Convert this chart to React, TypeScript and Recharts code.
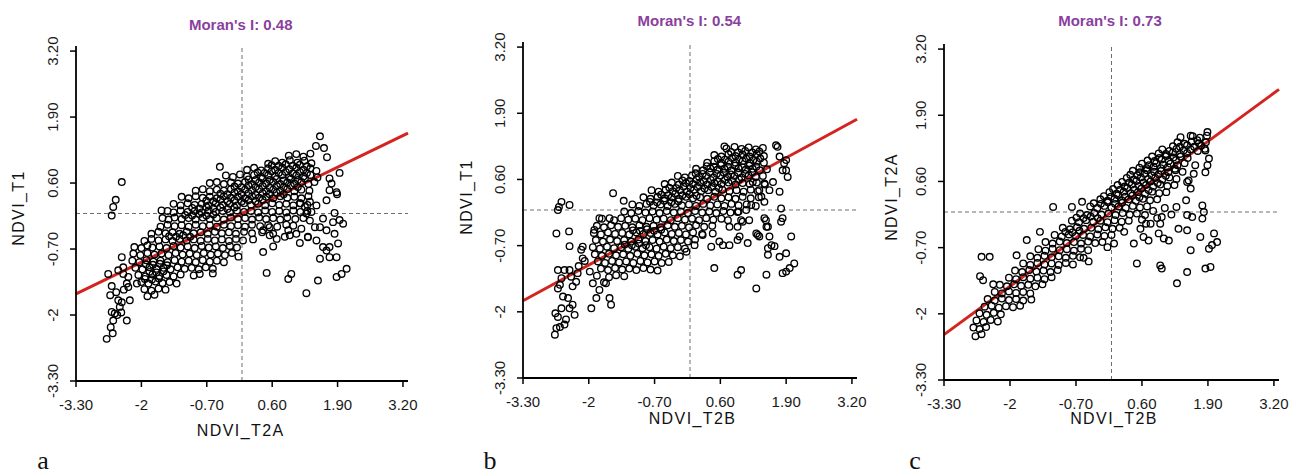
import React from "react";
import { ScatterChart, Scatter, XAxis, YAxis, ReferenceLine } from "recharts";

// shared axis ticks (both axes, all three panels)
const TICKS = [-3.3, -2, -0.7, 0.6, 1.9, 3.2];
const TICK_LABELS = ["-3.30", "-2", "-0.70", "0.60", "1.90", "3.20"];
const DOMAIN: [number, number] = [-3.3, 3.3];

const MORAN = [0.48, 0.54, 0.73];
const X_TITLES = ["NDVI_T2A", "NDVI_T2B", "NDVI_T2B"];
const Y_TITLES = ["NDVI_T1", "NDVI_T1", "NDVI_T2A"];
const LETTERS = ["a", "b", "c"];

// a: NDVI_T2A (x) vs NDVI_T1 (y)
const POINTS_A: [number, number][] = [
  [0.93,1.14],[1.08,1.17],[1.22,1.12],[1.36,1.18],
  [0.52,0.98],[0.66,1.03],[0.8,1.0],[0.95,1.05],[1.1,1.0],[1.24,1.04],[1.38,0.99],
  [0.1,0.86],[0.24,0.9],[0.38,0.85],[0.52,0.89],[0.66,0.86],[0.8,0.9],[0.94,0.87],[1.08,0.9],[1.22,0.86],[1.36,0.89],[1.48,0.84],
  [-0.44,0.92],[-0.32,0.75],[-0.18,0.72],[-0.04,0.77],[0.1,0.73],[0.24,0.76],[0.38,0.72],[0.52,0.75],[0.66,0.73],[0.8,0.76],[0.94,0.72],[1.08,0.75],[1.22,0.73],[1.36,0.76],[1.5,0.71],
  [-0.64,0.6],[-0.5,0.62],[-0.36,0.58],[-0.22,0.61],[-0.08,0.59],[0.06,0.62],[0.2,0.58],[0.34,0.61],[0.48,0.59],[0.62,0.62],[0.76,0.58],[0.9,0.61],[1.04,0.59],[1.18,0.62],[1.32,0.58],[1.44,0.62],
  [-0.92,0.45],[-0.78,0.48],[-0.64,0.44],[-0.5,0.47],[-0.36,0.45],[-0.22,0.48],[-0.08,0.44],[0.06,0.47],[0.2,0.45],[0.34,0.48],[0.48,0.44],[0.62,0.47],[0.76,0.45],[0.9,0.48],[1.04,0.44],[1.18,0.47],[1.34,0.45],
  [-1.2,0.33],[-1.06,0.3],[-0.92,0.34],[-0.78,0.31],[-0.64,0.33],[-0.5,0.3],[-0.36,0.34],[-0.22,0.31],[-0.08,0.33],[0.06,0.3],[0.2,0.34],[0.34,0.31],[0.48,0.33],[0.62,0.3],[0.76,0.34],[0.9,0.31],[1.04,0.33],[1.18,0.3],[1.32,0.34],
  [-1.36,0.19],[-1.22,0.16],[-1.08,0.2],[-0.94,0.17],[-0.8,0.19],[-0.66,0.16],[-0.52,0.2],[-0.38,0.17],[-0.24,0.19],[-0.1,0.16],[0.04,0.2],[0.18,0.17],[0.32,0.19],[0.46,0.16],[0.6,0.2],[0.74,0.17],[0.88,0.19],[1.02,0.16],[1.16,0.2],[1.3,0.17],
  [-1.6,0.06],[-1.48,0.05],[-1.36,0.02],[-1.22,0.06],[-1.08,0.03],[-0.94,0.05],[-0.8,0.02],[-0.66,0.06],[-0.52,0.03],[-0.38,0.05],[-0.24,0.02],[-0.1,0.06],[0.04,0.03],[0.18,0.05],[0.32,0.02],[0.46,0.06],[0.6,0.03],[0.74,0.05],[0.88,0.02],[1.02,0.06],[1.16,0.03],[1.3,0.05],
  [-1.58,-0.09],[-1.46,-0.12],[-1.34,-0.08],[-1.2,-0.11],[-1.06,-0.09],[-0.92,-0.12],[-0.78,-0.08],[-0.64,-0.11],[-0.5,-0.09],[-0.36,-0.12],[-0.22,-0.08],[-0.08,-0.11],[0.06,-0.09],[0.2,-0.12],[0.34,-0.08],[0.48,-0.11],[0.62,-0.09],[0.76,-0.12],[0.9,-0.08],[1.06,-0.11],[1.22,-0.09],
  [-1.62,-0.26],[-1.48,-0.22],[-1.34,-0.25],[-1.2,-0.23],[-1.06,-0.26],[-0.92,-0.22],[-0.78,-0.25],[-0.64,-0.23],[-0.5,-0.26],[-0.36,-0.22],[-0.22,-0.25],[-0.08,-0.23],[0.06,-0.26],[0.2,-0.22],[0.36,-0.25],[0.52,-0.23],[0.7,-0.26],[0.88,-0.22],[1.02,-0.24],
  [-1.8,-0.4],[-1.66,-0.36],[-1.52,-0.39],[-1.38,-0.37],[-1.24,-0.4],[-1.1,-0.36],[-0.96,-0.39],[-0.82,-0.37],[-0.68,-0.4],[-0.54,-0.36],[-0.4,-0.39],[-0.26,-0.37],[-0.12,-0.4],[0.04,-0.36],[0.2,-0.39],[0.4,-0.37],[0.62,-0.4],[0.92,-0.33],[1.08,-0.4],[1.18,-0.3],
  [-1.94,-0.54],[-1.8,-0.5],[-1.66,-0.53],[-1.52,-0.51],[-1.38,-0.54],[-1.24,-0.5],[-1.1,-0.53],[-0.96,-0.51],[-0.82,-0.54],[-0.68,-0.5],[-0.54,-0.53],[-0.4,-0.51],[-0.26,-0.54],[-0.12,-0.5],[0.02,-0.53],[0.22,-0.51],[0.69,-0.5],[0.85,-0.46],
  [-2.14,-0.66],[-2.0,-0.68],[-1.88,-0.63],[-1.78,-0.67],[-1.64,-0.65],[-1.5,-0.68],[-1.36,-0.64],[-1.22,-0.67],[-1.08,-0.65],[-0.94,-0.68],[-0.8,-0.64],[-0.66,-0.67],[-0.52,-0.65],[-0.38,-0.68],[-0.24,-0.64],[-0.1,-0.67],
  [-2.16,-0.79],[-2.02,-0.82],[-1.88,-0.78],[-1.74,-0.81],[-1.6,-0.79],[-1.46,-0.82],[-1.32,-0.78],[-1.18,-0.81],[-1.04,-0.79],[-0.9,-0.82],[-0.76,-0.78],[-0.62,-0.81],[-0.48,-0.79],[-0.34,-0.82],[-0.2,-0.78],[-0.07,-0.85],
  [-2.18,-0.93],[-2.04,-0.96],[-1.9,-0.92],[-1.76,-0.95],[-1.62,-0.93],[-1.48,-0.96],[-1.34,-0.92],[-1.2,-0.95],[-1.06,-0.93],[-0.92,-0.96],[-0.78,-0.92],[-0.64,-0.95],[-0.5,-0.93],[-0.36,-0.96],
  [-2.12,-1.07],[-1.98,-1.1],[-1.84,-1.06],[-1.7,-1.09],[-1.56,-1.07],[-1.42,-1.1],[-1.28,-1.06],[-1.14,-1.09],[-1.0,-1.07],[-0.86,-1.1],[-0.72,-1.06],[-0.58,-1.09],
  [-2.06,-1.21],[-1.92,-1.24],[-1.78,-1.2],[-1.64,-1.23],[-1.5,-1.21],[-1.36,-1.24],[-1.22,-1.2],[-0.96,-1.22],[-0.84,-1.19],[-0.58,-1.18],
  [-2.0,-1.35],[-1.86,-1.38],[-1.72,-1.34],[-1.58,-1.37],[-1.44,-1.35],[-1.3,-1.38],
  [-1.94,-1.49],[-1.8,-1.52],[-1.66,-1.48],[-1.52,-1.5],[-1.88,-1.63],[-1.74,-1.6],
  // overlapping points in the densest part
  [0.59,0.95],[0.73,0.94],[0.87,0.97],[1.01,0.94],[1.15,0.96],[1.29,0.93],
  [0.31,0.81],[0.45,0.8],[0.59,0.83],[0.73,0.8],[0.87,0.82],[1.01,0.79],[1.15,0.82],[1.29,0.8],
  [0.13,0.67],[0.27,0.66],[0.41,0.69],[0.55,0.66],[0.69,0.68],[0.83,0.65],[0.97,0.68],[1.11,0.66],[1.25,0.69],
  [-0.15,0.53],[-0.01,0.52],[0.13,0.55],[0.27,0.52],[0.41,0.54],[0.55,0.51],[0.69,0.54],[0.83,0.52],[0.97,0.55],[1.11,0.52],
  [-0.43,0.39],[-0.29,0.38],[-0.15,0.41],[-0.01,0.38],[0.13,0.4],[0.27,0.37],[0.41,0.4],[0.55,0.38],[0.69,0.41],[0.83,0.38],
  [-0.71,0.25],[-0.57,0.24],[-0.43,0.27],[-0.29,0.24],[-0.15,0.26],[-0.01,0.23],[0.13,0.26],[0.27,0.24],[0.41,0.27],
  [-0.99,0.11],[-0.85,0.1],[-0.71,0.13],[-0.57,0.1],[-0.43,0.12],[-0.29,0.09],[-0.15,0.12],
  [-1.13,-0.03],[-0.99,-0.04],[-0.85,-0.01],[-0.71,-0.04],[-0.57,-0.02],
  [-1.45,-0.45],[-1.31,-0.46],[-1.17,-0.43],[-1.03,-0.46],
  [-1.91,-1.0],[-1.77,-1.01],[-1.63,-0.99],[-1.49,-1.02],[-1.84,-1.15],[-1.7,-1.16],[-1.56,-1.14],[-1.93,-1.29],[-1.79,-1.3],[-1.65,-1.28],
  // left tail and isolated points
  [-2.39,0.62],[-2.51,0.27],[-2.56,0.13],[-2.59,-0.04],
  [-2.69,-2.47],[-2.57,-2.36],[-2.61,-2.24],[-2.56,-2.11],[-2.53,-1.97],[-2.59,-1.94],[-2.43,-1.84],[-2.39,-1.75],[-2.46,-1.71],[-2.23,-1.71],
  [-2.29,-2.11],[-2.62,-1.61],[-2.59,-1.43],[-2.66,-1.19],[-2.46,-1.12],[-2.36,-1.19],[-2.26,-1.25],[-2.29,-1.38],[-2.09,-1.38],[-2.39,-0.86],
  [-2.5,-1.55],[-2.35,-1.5],[-2.48,-2.0],[-2.4,-1.95],[-2.36,-1.06],[-2.26,-1.45],
  // right-hand scatter
  [1.55,1.52],[1.47,1.33],[1.63,1.29],[1.69,1.11],[1.94,0.8],[1.74,0.69],[1.78,0.59],[1.74,0.46],[1.88,0.42],[1.89,0.38],[1.68,0.26],
  [1.48,0.16],[1.38,0.03],[1.84,0.01],[1.81,-0.17],[2.01,-0.2],[1.94,-0.13],[1.61,-0.1],[1.55,-0.27],[1.68,-0.33],[1.45,-0.27],[1.35,-0.14],
  [1.31,-0.47],[1.48,-0.53],[1.61,-0.66],[1.74,-0.66],[1.68,-0.73],[1.55,-0.89],[1.74,-0.86],[1.88,-0.86],[1.91,-0.59],[1.84,-0.4],
  [2.08,-1.09],[1.98,-1.19],[1.88,-1.25],[1.51,-1.32],[0.98,-1.19],[0.92,-1.29],[0.49,-1.17],[1.28,-1.57],[0.42,-0.76],[0.62,-0.65],
  [1.15,-0.58],[0.95,-0.43],[1.31,-0.46],[1.35,0.23],[1.25,0.13],[1.15,0.2],[1.28,0.0],[0.55,-0.43],[0.42,-0.33],[0.55,-0.27],
];

// b: NDVI_T2B (x) vs NDVI_T1 (y)
const POINTS_B: [number, number][] = [
  [0.72,1.21],[0.88,1.24],[1.02,1.2],[1.16,1.23],[1.3,1.19],[1.44,1.22],
  [0.48,1.08],[0.62,1.05],[0.76,1.1],[0.9,1.06],[1.04,1.09],[1.18,1.05],[1.32,1.1],[1.46,1.06],
  [0.34,0.93],[0.48,0.96],[0.62,0.92],[0.76,0.95],[0.9,0.93],[1.04,0.96],[1.18,0.92],[1.32,0.95],[1.46,0.93],
  [0.12,0.81],[0.26,0.78],[0.4,0.82],[0.54,0.79],[0.68,0.81],[0.82,0.78],[0.96,0.82],[1.1,0.79],[1.24,0.81],[1.38,0.78],[1.52,0.8],
  [-0.24,0.67],[-0.1,0.64],[0.04,0.68],[0.18,0.65],[0.32,0.67],[0.46,0.64],[0.6,0.68],[0.74,0.65],[0.88,0.67],[1.02,0.64],[1.16,0.68],[1.3,0.65],[1.44,0.67],
  [-0.5,0.51],[-0.36,0.54],[-0.22,0.5],[-0.08,0.53],[0.06,0.51],[0.2,0.54],[0.34,0.5],[0.48,0.53],[0.62,0.51],[0.76,0.54],[0.9,0.5],[1.04,0.53],[1.18,0.51],[1.32,0.54],[1.48,0.5],
  [-0.76,0.39],[-0.62,0.36],[-0.48,0.4],[-0.34,0.37],[-0.2,0.39],[-0.06,0.36],[0.08,0.4],[0.22,0.37],[0.36,0.39],[0.5,0.36],[0.64,0.4],[0.78,0.37],[0.92,0.39],[1.06,0.36],[1.2,0.4],[1.34,0.37],
  [-0.92,0.25],[-0.78,0.22],[-0.64,0.26],[-0.5,0.23],[-0.36,0.25],[-0.22,0.22],[-0.08,0.26],[0.06,0.23],[0.2,0.25],[0.34,0.22],[0.48,0.26],[0.62,0.23],[0.76,0.25],[0.9,0.22],[1.04,0.26],[1.2,0.23],[1.36,0.25],
  [-1.14,0.11],[-1.0,0.08],[-0.86,0.12],[-0.72,0.09],[-0.58,0.11],[-0.44,0.08],[-0.3,0.12],[-0.16,0.09],[-0.02,0.11],[0.12,0.08],[0.26,0.12],[0.4,0.09],[0.54,0.11],[0.68,0.08],[0.82,0.12],[0.96,0.09],[1.12,0.11],[1.3,0.08],
  [-1.3,-0.03],[-1.16,-0.06],[-1.02,-0.02],[-0.88,-0.05],[-0.74,-0.03],[-0.6,-0.06],[-0.46,-0.02],[-0.32,-0.05],[-0.18,-0.03],[-0.04,-0.06],[0.1,-0.02],[0.24,-0.05],[0.38,-0.03],[0.52,-0.06],[0.66,-0.02],[0.8,-0.05],[0.96,-0.03],
  [-1.74,-0.17],[-1.5,-0.2],[-1.36,-0.16],[-1.22,-0.19],[-1.08,-0.17],[-0.94,-0.2],[-0.8,-0.16],[-0.66,-0.19],[-0.52,-0.17],[-0.38,-0.2],[-0.24,-0.16],[-0.1,-0.19],[0.04,-0.17],[0.18,-0.2],[0.32,-0.16],[0.46,-0.19],[0.62,-0.17],
  [-1.84,-0.31],[-1.7,-0.34],[-1.56,-0.3],[-1.42,-0.33],[-1.28,-0.31],[-1.14,-0.34],[-1.0,-0.3],[-0.86,-0.33],[-0.72,-0.31],[-0.58,-0.34],[-0.44,-0.3],[-0.3,-0.33],[-0.16,-0.31],[-0.02,-0.34],[0.12,-0.3],[0.28,-0.33],[0.44,-0.31],
  [-1.9,-0.45],[-1.76,-0.48],[-1.62,-0.44],[-1.48,-0.47],[-1.34,-0.45],[-1.2,-0.48],[-1.06,-0.44],[-0.92,-0.47],[-0.78,-0.45],[-0.64,-0.48],[-0.5,-0.44],[-0.36,-0.47],[-0.22,-0.45],[-0.08,-0.48],[0.06,-0.44],[0.24,-0.47],
  [-1.86,-0.59],[-1.72,-0.62],[-1.58,-0.58],[-1.44,-0.61],[-1.3,-0.59],[-1.16,-0.62],[-1.02,-0.58],[-0.88,-0.61],[-0.74,-0.59],[-0.6,-0.62],[-0.46,-0.58],[-0.32,-0.61],[-0.18,-0.59],[-0.04,-0.62],[0.1,-0.58],
  [-1.92,-0.73],[-1.78,-0.76],[-1.64,-0.72],[-1.5,-0.75],[-1.36,-0.73],[-1.22,-0.76],[-1.08,-0.72],[-0.94,-0.75],[-0.8,-0.73],[-0.66,-0.76],[-0.52,-0.72],[-0.38,-0.75],[-0.24,-0.73],[-0.1,-0.76],
  [-1.88,-0.87],[-1.74,-0.9],[-1.6,-0.86],[-1.46,-0.89],[-1.32,-0.87],[-1.18,-0.9],[-1.04,-0.86],[-0.9,-0.89],[-0.76,-0.87],[-0.62,-0.9],[-0.48,-0.86],[-0.34,-0.89],[-0.2,-0.91],
  [-1.82,-1.01],[-1.68,-1.04],[-1.54,-1.0],[-1.4,-1.03],[-1.26,-1.01],[-1.12,-1.04],[-0.98,-1.0],[-0.84,-1.03],[-0.7,-1.01],[-0.56,-1.04],[-0.42,-1.02],
  [-1.76,-1.15],[-1.62,-1.18],[-1.48,-1.14],[-1.34,-1.17],[-1.2,-1.15],[-1.06,-1.18],[-0.92,-1.14],[-0.78,-1.17],[-0.64,-1.19],
  [-1.84,-1.29],[-1.6,-1.32],[-1.46,-1.28],[-1.3,-1.3],[-1.92,-1.44],[-1.7,-1.42],
  // overlapping points in the densest part
  [0.81,1.14],[0.95,1.13],[1.09,1.16],[1.23,1.13],[1.37,1.15],
  [0.55,1.0],[0.69,0.99],[0.83,1.02],[0.97,0.99],[1.11,1.01],[1.25,0.98],[1.39,1.01],
  [0.33,0.86],[0.47,0.85],[0.61,0.88],[0.75,0.85],[0.89,0.87],[1.03,0.84],[1.17,0.87],[1.31,0.85],
  [0.11,0.72],[0.25,0.71],[0.39,0.74],[0.53,0.71],[0.67,0.73],[0.81,0.7],[0.95,0.73],[1.09,0.71],[1.23,0.74],
  [-0.15,0.58],[-0.01,0.57],[0.13,0.6],[0.27,0.57],[0.41,0.59],[0.55,0.56],[0.69,0.59],[0.83,0.57],[0.97,0.6],
  [-0.41,0.44],[-0.27,0.43],[-0.13,0.46],[0.01,0.43],[0.15,0.45],[0.29,0.42],[0.43,0.45],[0.57,0.43],
  [-0.57,0.3],[-0.43,0.29],[-0.29,0.32],[-0.15,0.29],[-0.01,0.31],[0.13,0.28],
  [-0.79,0.16],[-0.65,0.15],[-0.51,0.18],[-0.37,0.15],[-0.23,0.17],
  [-1.13,-0.4],[-0.99,-0.41],[-0.85,-0.38],[-0.71,-0.41],[-0.57,-0.39],
  [-1.29,-0.68],[-1.15,-0.69],[-1.01,-0.66],[-0.87,-0.69],
  // left scatter
  [-2.67,-2.45],[-2.64,-2.32],[-2.57,-2.3],[-2.66,-2.03],[-2.61,-2.1],[-2.48,-2.25],[-2.45,-2.15],[-2.54,-1.93],[-2.38,-1.93],[-2.32,-1.86],
  [-2.28,-2.06],[-2.41,-1.73],[-2.51,-1.7],[-2.61,-1.54],[-2.57,-1.47],[-2.54,-1.34],[-2.61,-1.18],[-2.48,-1.18],[-2.38,-1.18],[-2.35,-1.31],
  [-2.32,-1.5],[-2.25,-1.41],[-2.22,-1.24],[-2.64,-0.46],[-2.39,-0.42],[-2.38,-0.71],[-2.59,0.06],[-2.54,0.16],[-2.38,0.1],[-2.61,0.0],
  [-2.12,-0.72],[-2.15,-0.78],[-2.08,-1.0],[-1.98,-1.21],[-1.89,-0.39],[-1.79,-0.16],[-1.95,-1.93],[-1.85,-1.73],[-1.79,-1.57],
  [-1.59,-1.73],[-1.56,-1.86],[-1.66,-1.44],[-1.52,0.33],[-1.31,0.18],[-1.59,-0.16],[-2.12,-0.95],[-2.2,-1.1],
  // right scatter
  [0.68,1.25],[1.7,1.27],[1.73,1.24],[1.9,0.98],[1.9,0.78],[1.93,0.65],[1.64,0.55],[1.57,0.39],[1.77,0.36],[1.41,0.26],[1.47,0.16],
  [1.8,0.03],[1.83,-0.16],[1.8,-0.23],[1.47,-0.16],[1.54,-0.33],[1.5,-0.2],[1.31,-0.46],[1.37,-0.52],[1.57,-0.52],[1.61,-0.69],
  [1.67,-0.71],[1.54,-0.75],[1.54,-0.88],[2.0,-0.52],[1.77,-0.92],[1.9,-0.85],[1.9,-1.21],[1.97,-1.14],[2.06,-1.05],[1.83,-1.24],
  [1.51,-1.27],[1.31,-1.54],[0.94,-1.27],[1.01,-1.18],[0.48,-1.14],[-0.07,-0.82],[0.09,-0.69],[0.42,-0.72],[0.58,-0.62],[0.65,-0.69],
  [0.78,-0.69],[0.25,-0.49],[0.45,-0.46],[0.98,-0.52],[0.94,-0.59],[1.14,-0.65],[1.04,-0.23],[1.17,-0.2],[0.94,-0.33],[0.78,-0.33],
  [0.75,-0.2],[1.01,-0.2],[1.34,-0.49],[1.51,-0.33],[1.11,0.0],[0.94,-0.04],[1.21,0.1],[1.37,0.39],[1.47,0.52],[1.24,0.55],
  [1.77,1.05],[1.86,0.92],[1.83,0.78],
];

// c: NDVI_T2B (x) vs NDVI_T2A (y)
const POINTS_C: [number, number][] = [
  [-2.68,-2.44],[-2.56,-2.4],[-2.72,-2.27],[-2.6,-2.3],[-2.47,-2.26],
  [-2.66,-2.13],[-2.52,-2.16],[-2.38,-2.12],[-2.24,-2.15],[-2.6,-1.99],[-2.46,-2.02],[-2.32,-1.98],[-2.18,-2.01],
  [-2.5,-1.86],[-2.36,-1.84],[-2.22,-1.88],[-2.08,-1.85],[-1.94,-1.87],[-1.8,-1.84],
  [-2.44,-1.71],[-2.3,-1.74],[-2.16,-1.7],[-2.02,-1.73],[-1.88,-1.71],[-1.74,-1.74],[-1.58,-1.72],
  [-2.3,-1.57],[-2.16,-1.6],[-2.02,-1.56],[-1.88,-1.59],[-1.74,-1.57],[-1.6,-1.6],
  [-2.2,-1.43],[-2.06,-1.46],[-1.92,-1.42],[-1.78,-1.45],[-1.64,-1.43],[-1.5,-1.46],[-1.36,-1.42],
  [-2.02,-1.29],[-1.88,-1.32],[-1.74,-1.28],[-1.6,-1.31],[-1.46,-1.29],[-1.32,-1.32],[-1.18,-1.28],
  [-1.9,-1.15],[-1.76,-1.18],[-1.62,-1.14],[-1.48,-1.17],[-1.34,-1.15],[-1.2,-1.18],[-1.06,-1.14],
  [-1.74,-1.01],[-1.6,-1.04],[-1.46,-1.0],[-1.32,-1.03],[-1.18,-1.01],[-1.04,-1.04],[-0.9,-1.0],[-0.76,-1.03],
  [-1.6,-0.87],[-1.46,-0.9],[-1.32,-0.86],[-1.18,-0.89],[-1.04,-0.87],[-0.9,-0.9],[-0.76,-0.86],[-0.62,-0.89],
  [-1.44,-0.73],[-1.3,-0.76],[-1.16,-0.72],[-1.02,-0.75],[-0.88,-0.73],[-0.74,-0.76],[-0.6,-0.72],[-0.46,-0.75],
  [-1.3,-0.59],[-1.16,-0.62],[-1.02,-0.58],[-0.88,-0.61],[-0.74,-0.59],[-0.6,-0.62],[-0.46,-0.58],[-0.32,-0.61],[-0.18,-0.59],
  [-1.12,-0.45],[-0.98,-0.48],[-0.84,-0.44],[-0.7,-0.47],[-0.56,-0.45],[-0.42,-0.48],[-0.28,-0.44],[-0.14,-0.47],[0.0,-0.45],
  [-0.96,-0.31],[-0.82,-0.34],[-0.68,-0.3],[-0.54,-0.33],[-0.4,-0.31],[-0.26,-0.34],[-0.12,-0.3],[0.02,-0.33],[0.16,-0.31],
  [-0.78,-0.17],[-0.64,-0.2],[-0.5,-0.16],[-0.36,-0.19],[-0.22,-0.17],[-0.08,-0.2],[0.06,-0.16],[0.2,-0.19],[0.34,-0.17],
  [-0.62,-0.03],[-0.48,-0.06],[-0.34,-0.02],[-0.2,-0.05],[-0.06,-0.03],[0.08,-0.06],[0.22,-0.02],[0.36,-0.05],[0.5,-0.03],
  [-0.42,0.11],[-0.28,0.08],[-0.14,0.12],[0.0,0.09],[0.14,0.11],[0.28,0.08],[0.42,0.12],[0.56,0.09],[0.7,0.11],
  [-0.22,0.25],[-0.08,0.22],[0.06,0.26],[0.2,0.23],[0.34,0.25],[0.48,0.22],[0.62,0.26],[0.76,0.23],[0.9,0.25],
  [-0.04,0.39],[0.1,0.36],[0.24,0.4],[0.38,0.37],[0.52,0.39],[0.66,0.36],[0.8,0.4],[0.94,0.37],[1.08,0.39],
  [0.12,0.53],[0.26,0.5],[0.4,0.54],[0.54,0.51],[0.68,0.53],[0.82,0.5],[0.96,0.54],[1.1,0.51],[1.24,0.53],
  [0.3,0.67],[0.44,0.64],[0.58,0.68],[0.72,0.65],[0.86,0.67],[1.0,0.64],[1.14,0.68],[1.28,0.65],
  [0.42,0.81],[0.56,0.78],[0.7,0.82],[0.84,0.79],[0.98,0.81],[1.12,0.78],[1.26,0.82],[1.4,0.79],
  [0.6,0.95],[0.74,0.92],[0.88,0.96],[1.02,0.93],[1.16,0.95],[1.3,0.92],[1.44,0.96],
  [0.8,1.09],[0.94,1.06],[1.08,1.1],[1.22,1.07],[1.36,1.09],[1.5,1.06],
  [1.0,1.23],[1.14,1.2],[1.28,1.24],[1.42,1.21],[1.56,1.23],[1.7,1.2],[1.84,1.24],
  [1.3,1.37],[1.44,1.34],[1.58,1.38],[1.72,1.35],[1.86,1.37],[1.6,1.49],[1.74,1.46],[1.88,1.5],
  // overlapping points along the band
  [1.21,1.29],[1.35,1.28],[1.49,1.31],[1.63,1.28],[1.77,1.3],
  [0.93,1.15],[1.07,1.14],[1.21,1.17],[1.35,1.14],[1.49,1.16],
  [0.71,1.01],[0.85,1.0],[0.99,1.03],[1.13,1.0],[1.27,1.02],
  [0.55,0.87],[0.69,0.86],[0.83,0.89],[0.97,0.86],[1.11,0.88],[1.25,0.85],
  [0.37,0.73],[0.51,0.72],[0.65,0.75],[0.79,0.72],[0.93,0.74],[1.07,0.71],
  [0.21,0.59],[0.35,0.58],[0.49,0.61],[0.63,0.58],[0.77,0.6],[0.91,0.57],
  [0.03,0.45],[0.17,0.44],[0.31,0.47],[0.45,0.44],[0.59,0.46],[0.73,0.43],
  [-0.15,0.31],[-0.01,0.3],[0.13,0.33],[0.27,0.3],[0.41,0.32],[0.55,0.29],
  [-0.35,0.17],[-0.21,0.16],[-0.07,0.19],[0.07,0.16],[0.21,0.18],
  [-0.69,-0.11],[-0.55,-0.12],[-0.41,-0.09],[-0.27,-0.12],
  [-0.91,-0.39],[-0.77,-0.4],[-0.63,-0.37],
  // off-diagonal points
  [-2.56,-0.88],[-2.4,-0.88],[-2.59,-1.26],[-2.53,-1.34],[-2.33,-1.42],[-1.87,-0.85],[-1.67,-0.55],[-1.41,-0.39],
  [-1.15,0.1],[-0.78,0.1],[-0.58,0.2],[-0.08,-0.69],[0.05,-0.62],[0.25,-0.39],[-0.45,-0.97],[-0.55,-0.9],
  [0.66,-0.06],[0.82,0.02],[0.9,-0.12],[1.05,0.08],[0.6,-0.15],
  [0.5,-1.01],[0.44,-0.62],[0.57,-0.33],[0.63,-0.49],[0.73,-0.56],[0.68,-0.23],[0.77,-0.23],[0.93,-0.42],[1.03,-0.52],[1.13,-0.56],
  [0.96,-1.05],[0.99,-1.11],[1.29,-1.4],[1.32,-0.33],[1.49,-0.36],[1.56,-0.75],[1.49,-1.18],[1.49,-0.06],[1.59,-0.1],[0.99,-0.1],
  [0.96,-0.23],[1.79,0.13],[1.82,0.0],[1.79,-0.13],[1.75,-0.49],[2.02,-0.42],[2.08,-0.59],[1.92,-0.72],[1.98,-0.65],[1.85,-1.11],
  [1.95,-1.08],[1.49,0.59],[1.56,0.46],[1.52,0.62],[1.85,0.78],[1.89,0.92],[1.92,1.05],[1.85,1.21],[1.65,0.92],[1.62,0.75],
  [1.89,1.57],[1.36,1.47],[1.56,1.5],[1.69,1.41],[1.47,0.23],[1.28,0.1],[1.18,-0.05],
];

const FONT = "'Liberation Sans', Arial, Helvetica, sans-serif";
const H = 475;
const YW = 40;
const XH = 30;

// plot-area frames in page pixels
const FRAMES = [
  { left: 0, width: 430, px: 76, py: 46, pw: 332, ph: 335 },
  { left: 430, width: 450, px: 523, py: 42, pw: 334, ph: 336 },
  { left: 860, width: 429, px: 944, py: 44, pw: 335, ph: 336 },
];

const TEXT_POS = [
  { title: [240.7, 29.5], xl: [240.7, 436], yl: [24.2, 208], letter: [43, 469] },
  { title: [689.3, 25.5], xl: [692.5, 424], yl: [472.4, 197], letter: [490, 468.5] },
  { title: [1110, 26.2], xl: [1114, 424], yl: [897.4, 197], letter: [915, 469] },
];

const fmt = (v: number) => {
  const i = TICKS.indexOf(v);
  return i >= 0 ? TICK_LABELS[i] : String(v);
};

const YTick = (props: any) => {
  const { x, y, payload } = props;
  return (
    <text x={x} y={y} transform={`rotate(-90 ${x} ${y})`} textAnchor="middle"
      fontSize={15} fill="#1a1a1a" fontFamily={FONT}>
      {fmt(payload.value)}
    </text>
  );
};

const Ring = (props: any) => (
  <circle cx={props.cx} cy={props.cy} r={3.3} fill="none" stroke="#000" strokeWidth={1.35} />
);

function Panel({ idx, points }: { idx: number; points: [number, number][] }) {
  const f = FRAMES[idx];
  const margin = {
    top: f.py,
    left: f.px - f.left - YW,
    right: f.width - (f.px - f.left) - f.pw,
    bottom: H - f.py - f.ph - XH,
  };
  const m = MORAN[idx];
  const data = points.map(([x, y]) => ({ x, y }));
  const axisLine = { stroke: "#000", strokeWidth: 1.8 };
  const tickLine = { stroke: "#000", strokeWidth: 1.5 };

  return (
    <div style={{ position: "absolute", left: f.left, top: 0 }}>
      <ScatterChart width={f.width} height={H} margin={margin}>
        <XAxis type="number" dataKey="x" domain={DOMAIN} ticks={TICKS} interval={0}
          allowDataOverflow height={XH} tickFormatter={fmt} tickSize={6} tickMargin={12}
          axisLine={axisLine} tickLine={tickLine}
          tick={{ fontSize: 15, fill: "#1a1a1a", fontFamily: FONT }} />
        <YAxis type="number" dataKey="y" domain={DOMAIN} ticks={TICKS} interval={0}
          allowDataOverflow width={YW} tickSize={6} tickMargin={12}
          axisLine={axisLine} tickLine={tickLine} tick={<YTick />} />
        <ReferenceLine x={0} stroke="#6e6e6e" strokeDasharray="4 3" />
        <ReferenceLine y={0} stroke="#6e6e6e" strokeDasharray="4 3" />
        <Scatter data={data} isAnimationActive={false} shape={Ring} />
        <ReferenceLine
          segment={[{ x: DOMAIN[0], y: DOMAIN[0] * m }, { x: DOMAIN[1], y: DOMAIN[1] * m }]}
          stroke="#d3241f" strokeWidth={3} />
      </ScatterChart>
    </div>
  );
}

export default function App() {
  const sets = [POINTS_A, POINTS_B, POINTS_C];
  return (
    <div style={{ position: "absolute", left: 0, top: 0, width: 1289, height: H, background: "#fff" }}>
      {sets.map((pts, i) => <Panel key={i} idx={i} points={pts} />)}
      <svg width={1289} height={H} style={{ position: "absolute", left: 0, top: 0, pointerEvents: "none" }}>
        {TEXT_POS.map((p, i) => (
          <g key={i}>
            <text x={p.title[0]} y={p.title[1]} textAnchor="middle" fontSize={15} fontWeight="bold"
              fill="#8a3f9e" fontFamily={FONT}>{`Moran's I: ${MORAN[i].toFixed(2)}`}</text>
            <text x={p.xl[0]} y={p.xl[1]} textAnchor="middle" fontSize={16} letterSpacing={1.4}
              fill="#111" fontFamily={FONT}>{X_TITLES[i]}</text>
            <text x={p.yl[0]} y={p.yl[1]} textAnchor="middle" fontSize={16} letterSpacing={1.4}
              fill="#111" fontFamily={FONT} transform={`rotate(-90 ${p.yl[0]} ${p.yl[1]})`}>{Y_TITLES[i]}</text>
            <text x={p.letter[0]} y={p.letter[1]} textAnchor="middle" fontSize={26}
              fill="#111" fontFamily="'Liberation Serif', 'Times New Roman', serif">{LETTERS[i]}</text>
          </g>
        ))}
      </svg>
    </div>
  );
}
